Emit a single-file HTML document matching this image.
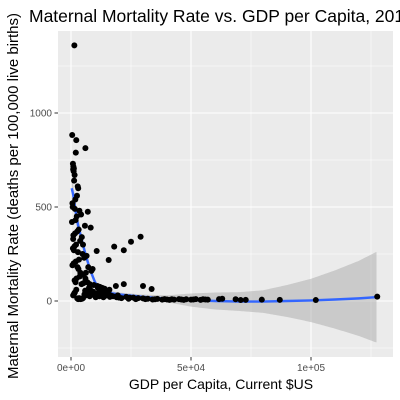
<!DOCTYPE html>
<html><head><meta charset="utf-8"><style>
body{margin:0;background:#fff;width:400px;height:400px;overflow:hidden}
svg{display:block;font-family:"Liberation Sans",sans-serif}
</style></head><body>
<svg id="c" width="400" height="400">
<text x="29" y="22" font-size="17.5" fill="#000">Maternal Mortality Rate vs. GDP per Capita, 2015</text>
<rect x="58" y="31" width="335" height="326" fill="#ebebeb"/>
<g id="grid"></g><g id="band"></g><g id="pts"></g><g id="axes"></g>
<text x="221" y="389" font-size="14" text-anchor="middle" fill="#000">GDP per Capita, Current $US</text>
<text transform="translate(18,196) rotate(-90)" font-size="15" text-anchor="middle" fill="#000">Maternal Mortality Rate (deaths per 100,000 live births)</text>
</svg>
<script>
const gdpK=[1.4,0.5,2.2,6,2,0.8,1.0,1.2,0.9,1.1,1.5,1.3,2.8,3.0,2.5,1.8,0.6,0.7,1.6,3.5,4.2,2.4,1.9,0.4,5.8,7,8.2,3.2,2.6,1.7,1.0,0.9,4.5,3.8,5,2.1,1.4,0.8,1.2,2.9,4.8,6.5,5.5,3.3,2.0,1.1,0.6,7.2,9,10.7,8.5,6.2,4.0,3.6,2.3,1.5,1.9,5.2,7.8,9.5,11,12,13,14,15.7,18,22,25,29,18.7,22,30,33.6,16,14,12.5,11.5,10,9.2,8,7.5,6.8,6,5,4.4,3.9,3.1,2.7,2.2,1.6,1.3,0.9,5.6,7.3,9.8,11.8,13.5,15,16.5,17.5,19,20,21,23,24,26,27,28,30,31,32,34,35,36,38,39,40,41,42,43,45,46,47,48,50,51,52,54,55,56,57,61.7,63,68.6,70.7,72.8,79.5,87,102,127.6,3,4,5,6.2,7.8,8.7,10.3,12.7,14.3,16.2,19.5,24.5,3.4,4.6,2.6,5.9,8.9,11.2];
const mmr=[1360,883,856,813,789,730,715,705,700,690,670,640,610,600,560,540,520,500,490,480,460,450,430,420,400,475,390,380,370,360,350,330,340,320,300,300,290,280,270,260,250,240,230,220,210,200,190,180,170,266,160,150,140,130,120,110,100,95,90,85,80,75,70,65,218,289,270,315,342,80,90,80,64,60,55,50,45,40,50,60,70,100,120,140,90,150,170,180,60,45,40,30,35,50,30,25,20,40,30,25,20,18,15,22,12,18,10,15,14,10,12,8,9,11,7,10,8,6,9,7,10,8,6,9,7,8,10,6,9,8,7,10,12,9,5,6,7,6,5,23,10,10,15,30,25,40,20,35,28,22,30,18,15,12,14,55,45,70,65,55,35];
const fitX=[0.3,1,2,3,4,6,8,10,12,15,20,30,40,50,60,70,80,90,100,110,120,127];
const fitY=[600,560,470,400,350,250,165,100,65,45,35,22,12,5,0,-3,-3,0,3,8,14,20];
const hwX=[0.3,5,10,20,30,40,50,60,70,80,90,100,110,120,127];
const hwY=[60,30,15,10,12,18,35,45,50,60,85,115,155,200,240];
const xTicks=[0,50,100];const xLabels=["0e+00","5e+04","1e+05"];
const yTicks=[0,500,1000];const yLabels=["0","500","1000"];
const X=v=>71+v*2.4, Y=v=>301-v*0.188;
const NS="http://www.w3.org/2000/svg";
function mk(t,a,p){const e=document.createElementNS(NS,t);for(const k in a)e.setAttribute(k,a[k]);p.appendChild(e);return e;}
function interp(xs,ys,x){for(let i=0;i<xs.length-1;i++){if(x<=xs[i+1]){const t=(x-xs[i])/(xs[i+1]-xs[i]);return ys[i]+t*(ys[i+1]-ys[i]);}}return ys[ys.length-1];}
const grid=document.getElementById('grid');
[-250,250,750,1250].forEach(v=>{const l=mk('line',{x1:58,x2:393,y1:Y(v),y2:Y(v),stroke:'#fff','stroke-width':0.5},grid);

});
[25,75,125].forEach(v=>{const l=mk('line',{y1:31,y2:357,x1:X(v),x2:X(v),stroke:'#fff','stroke-width':0.5},grid);

});
const axes=document.getElementById('axes');
yTicks.forEach((v,i)=>{const l=mk('line',{x1:58,x2:393,y1:Y(v),y2:Y(v),stroke:'#fff','stroke-width':1.1},grid);


const tk=mk('line',{x1:54.5,x2:58,y1:Y(v),y2:Y(v),stroke:'#333','stroke-width':1},axes);


const t=mk('text',{x:52,y:Y(v)+3.5,'font-size':10,'text-anchor':'end',fill:'#4d4d4d'},axes);t.textContent=yLabels[i];

});
xTicks.forEach((v,i)=>{const l=mk('line',{y1:31,y2:357,x1:X(v),x2:X(v),stroke:'#fff','stroke-width':1.1},grid);


const tk=mk('line',{y1:357,y2:360.5,x1:X(v),x2:X(v),stroke:'#333','stroke-width':1},axes);


const t=mk('text',{x:X(v),y:371,'font-size':10,'text-anchor':'middle',fill:'#4d4d4d'},axes);t.textContent=xLabels[i];

});
const band=document.getElementById('band');
let up=[],lo=[];
for(let g=0.3;g<=127.6;g+=0.5){const f=interp(fitX,fitY,g),h=interp(hwX,hwY,g);up.push(X(g)+','+Y(f+h));lo.unshift(X(g)+','+Y(f-h));}
const bp=mk('polygon',{points:up.concat(lo).join(' '),fill:'#999','fill-opacity':0.4},band);


const pts=document.getElementById('pts');
gdpK.forEach((g,i)=>{const c=mk('circle',{cx:X(g),cy:Y(mmr[i]),r:3,fill:'#000'},pts);

});
let d=fitX.map((g,i)=>(i?'L':'M')+X(g)+','+Y(fitY[i])).join(' ');
const fl=mk('path',{d:d,fill:'none',stroke:'#3366ff','stroke-width':2.4},pts);


pts.insertBefore(fl,pts.firstChild);
</script>
</body></html>
